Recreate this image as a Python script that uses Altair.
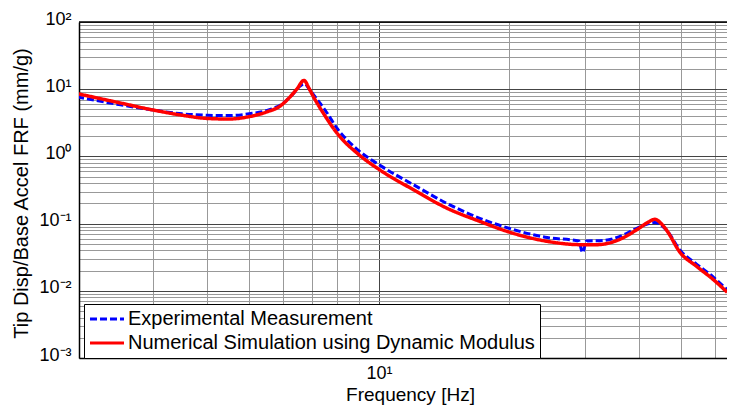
import altair as alt
import pandas as pd

# ---- data ----
exp_freq = [2.0, 2.5, 3.0, 3.5, 4.0, 4.5, 5.0, 5.6, 6.0, 6.33, 6.55, 6.72, 6.9, 7.1, 7.5, 8.0, 9.0,
            10.0, 12.0, 14.35, 17.1, 20.4, 24.5, 29.0, 29.6, 30.2, 33.0, 36.0, 39.5, 43.5, 46.3,
            49.8, 54.3, 59.4, 64.0]
exp_val = [7.7, 5.9, 4.9, 4.3, 4.1, 4.05, 4.3, 5.0, 6.2, 8.6, 11.0, 12.0, 10.0, 7.8, 4.9, 2.6, 1.2,
           0.75, 0.38, 0.2, 0.12, 0.082, 0.062, 0.055, 0.037, 0.055, 0.056, 0.064, 0.085, 0.104, 0.08,
           0.04, 0.025, 0.016, 0.0103]

num_freq = [2.0, 2.5, 3.0, 3.5, 4.0, 4.5, 5.0, 5.5, 5.9, 6.2, 6.45, 6.7, 6.9, 7.05, 7.43, 8.0, 9.0,
            10.0, 12.0, 14.35, 17.1, 20.4, 24.5, 29.2, 32.0, 36.0, 39.5, 42.0, 43.5, 45.0, 46.3,
            49.8, 54.3, 59.4, 64.0]
num_val = [8.6, 6.3, 4.9, 4.1, 3.67, 3.6, 3.9, 4.6, 5.6, 7.5, 10.0, 13.5, 10.0, 7.7, 4.4, 2.2, 1.05,
           0.64, 0.32, 0.17, 0.108, 0.072, 0.0545, 0.0486, 0.0486, 0.058, 0.081, 0.105, 0.116, 0.1, 0.08,
           0.037, 0.0232, 0.0147, 0.0095]

series_names = ["Experimental Measurement", "Numerical Simulation using Dynamic Modulus"]
series_colors = ["#0000ff", "#ff0000"]

x_ticks = [2, 3, 4, 5, 6, 7, 8, 9, 10, 20, 30, 40, 50, 60]
y_ticks = [m * 10.0 ** e for e in range(-3, 2) for m in range(1, 10)] + [100.0]
y_ticks = [float(f"{v:.6g}") for v in y_ticks]

df = pd.concat([
    pd.DataFrame({"f": exp_freq, "v": exp_val, "s": series_names[0]}),
    pd.DataFrame({"f": num_freq, "v": num_val, "s": series_names[1]}),
])

W, H = 648, 336
FONT = "Liberation Sans"

major_test = "abs(log(datum.value)/LN10 - round(log(datum.value)/LN10)) < 0.0001"
grid_color = {"condition": {"test": major_test, "value": "#444"}, "value": "#999"}

x_enc = alt.X("f:Q", scale=alt.Scale(type="log", domain=[2.02, 63.9], nice=False),
              axis=alt.Axis(values=x_ticks, title="Frequency [Hz]",
                            labelExpr="datum.value == 10 ? '10¹' : ''",
                            ticks=False, labelPadding=6, labelFontSize=18, labelFont=FONT,
                            titleFontSize=19, titleFont=FONT, titleFontWeight="normal",
                            titleX=331, titleY=27, titleBaseline="top", titleAlign="center",
                            domainColor="black", domainWidth=1.5,
                            grid=True, gridColor=grid_color,
                            gridWidth=1, labelColor="black", titleColor="black"))
y_enc = alt.Y("v:Q", scale=alt.Scale(type="log", domain=[0.001, 100], nice=False),
              axis=alt.Axis(values=y_ticks, title="Tip Disp/Base Accel FRF (mm/g)",
                            labelExpr=("datum.value == 100 ? '10²' : datum.value == 10 ? '10¹' : "
                                       "datum.value == 1 ? '10⁰' : datum.value == 0.1 ? '10⁻¹' : "
                                       "datum.value == 0.01 ? '10⁻²' : datum.value == 0.001 ? '10⁻³' : ''"),
                            ticks=False, labelPadding=8, labelFontSize=18, labelFont=FONT,
                            labelOffset=-3,
                            titleFontSize=20, titleFont=FONT, titleFontWeight="normal",
                            titleX=-58, titleY=171, titleAngle=-90, titleAlign="center",
                            titleBaseline="middle",
                            domainColor="black", domainWidth=1.5,
                            grid=True, gridColor=grid_color,
                            gridWidth=1, labelColor="black", titleColor="black"))

legend_opts = dict(title=None, orient="none", legendX=5, legendY=282,
                   symbolType="M-2.5,0H2.5", symbolSize=185, symbolStrokeWidth=3,
                   symbolOffset=8,
                   labelFontSize=20, labelFont=FONT, labelColor="black",
                   labelOffset=11, rowPadding=4, padding=5,
                   strokeColor="black", fillColor="white", labelLimit=600)

color_enc = alt.Color("s:N", scale=alt.Scale(domain=series_names, range=series_colors),
                      legend=alt.Legend(**legend_opts))
dash_enc = alt.StrokeDash("s:N", scale=alt.Scale(domain=series_names, range=[[7, 3], [1, 0]]),
                          legend=alt.Legend(**legend_opts))

base = alt.Chart(df).encode(x=x_enc, y=y_enc, color=color_enc, strokeDash=dash_enc)

exp_line = base.transform_filter(alt.datum.s == series_names[0]).mark_line(
    strokeWidth=3, interpolate="monotone", clip=True)
num_line = base.transform_filter(alt.datum.s == series_names[1]).mark_line(
    strokeWidth=3.5, interpolate="monotone", clip=True)

top_border = alt.Chart(pd.DataFrame({"a": [0]})).mark_rule(color="black", strokeWidth=1.5).encode(
    x=alt.value(0), x2=alt.value(W), y=alt.value(0))

chart = alt.layer(exp_line, num_line, top_border).properties(
    width=W, height=H,
    autosize=alt.AutoSizeParams(type="none"),
    padding={"left": 71, "top": 14, "right": 0, "bottom": 47},
).configure_view(stroke=None).configure(background="white")

chart.save("out.html", embed_options={"renderer": "svg", "actions": False})
